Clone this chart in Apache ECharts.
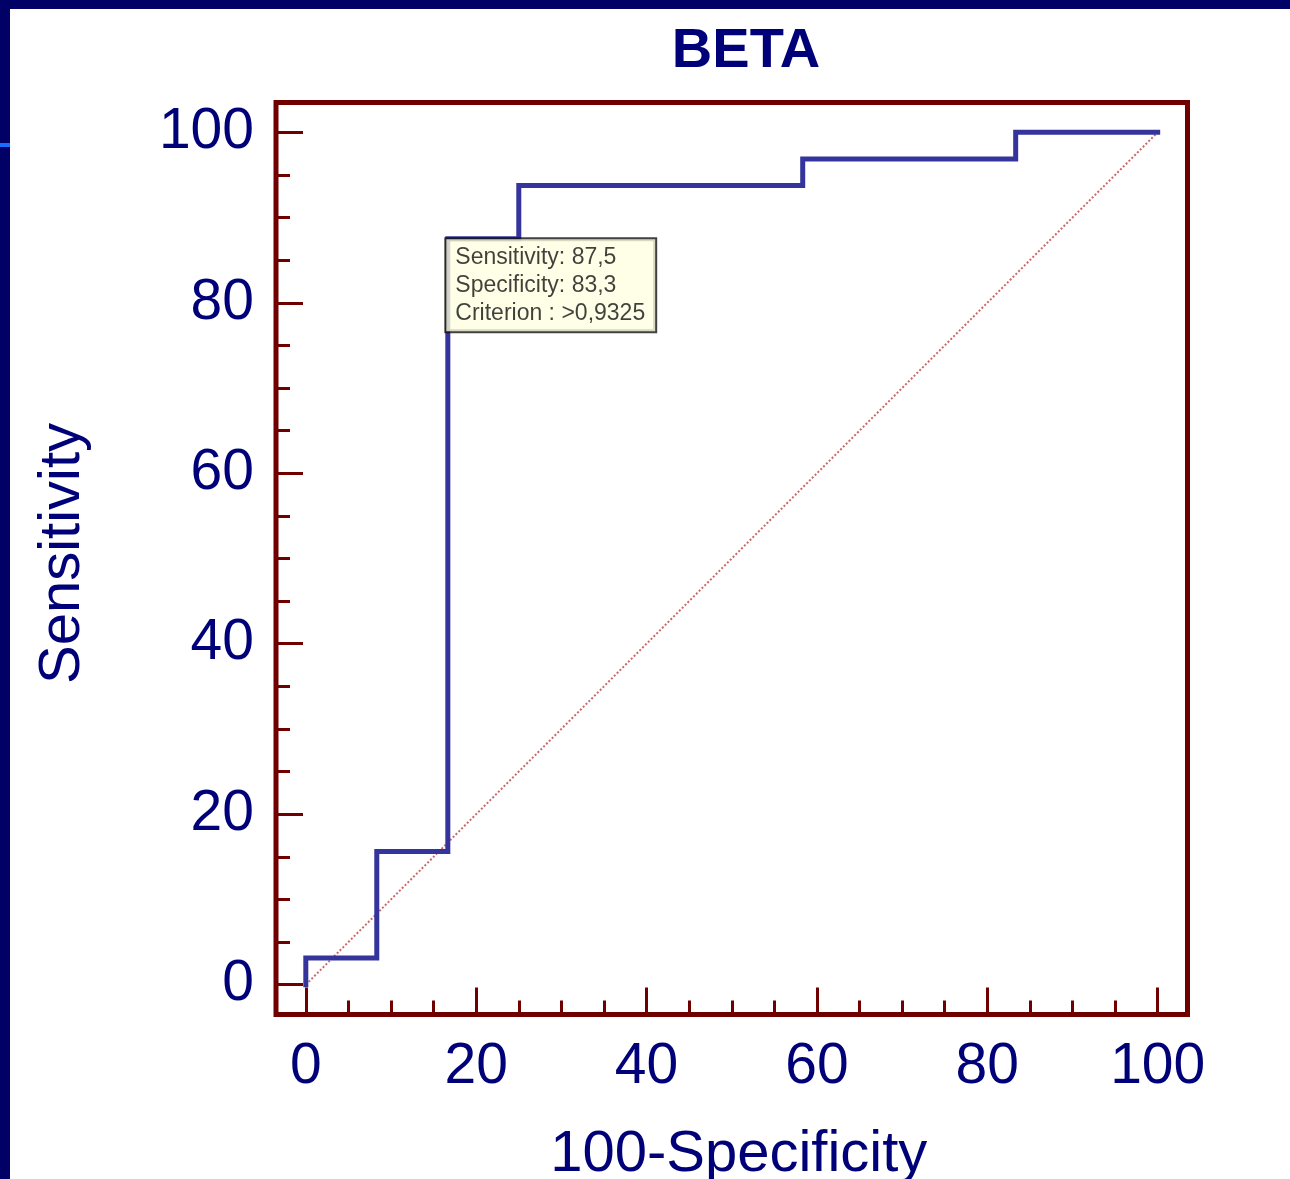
<!DOCTYPE html>
<html>
<head>
<meta charset="utf-8">
<script src="https://cdn.jsdelivr.net/npm/echarts@6/dist/echarts.min.js"></script>
<style>
html,body{margin:0;padding:0;background:#fff;}
#chart{width:1290px;height:1179px;}
</style>
</head>
<body>
<div id="chart"></div>
<script>
// ROC curve vertices (100-Specificity, Sensitivity)
var rocX = [0, 0, 8.33, 8.33, 16.67, 16.67, 25, 25, 58.33, 58.33, 83.33, 83.33, 100];
var rocY = [0, 3.125, 3.125, 15.625, 15.625, 87.5, 87.5, 93.75, 93.75, 96.875, 96.875, 100, 100];
var diagX = [0, 100];
var diagY = [0, 100];
var majorTicks = [0, 20, 40, 60, 80, 100];
var minorTicks = [5, 10, 15, 25, 30, 35, 45, 50, 55, 65, 70, 75, 85, 90, 95];
var cutPoint = [16.67, 87.5];
var cutText = ['Sensitivity: 87,5', 'Specificity: 83,3', 'Criterion : >0,9325'];
var titleText = 'BETA';
var xName = '100-Specificity';
var yName = 'Sensitivity';

var FONT = '"Liberation Sans", Arial, sans-serif';
var NAVY = '#000078';
var FRAME = '#700000';

function pairs(xs, ys) { return xs.map(function (x, i) { return [x, ys[i]]; }); }

function majorAxis(isX) {
  return {
    type: 'value', min: -3.5, max: 103.5,
    position: isX ? 'bottom' : 'left',
    axisLine: { show: false, onZero: false },
    splitLine: { show: false },
    axisTick: { show: true, inside: true, length: 27, customValues: majorTicks,
      lineStyle: { color: FRAME, width: 3 } },
    axisLabel: { show: true, customValues: majorTicks, fontSize: 57, fontFamily: FONT,
      color: NAVY, margin: isX ? 24 : 22 },
    name: isX ? xName : yName,
    nameLocation: 'middle',
    nameGap: isX ? 111 : 184,
    nameTextStyle: isX
      ? { fontSize: 58, fontFamily: FONT, color: NAVY, padding: [0, 0, 0, 14] }
      : { fontSize: 58, fontFamily: FONT, color: NAVY, padding: [0, 0, 0, 10] }
  };
}
function minorAxis(isX) {
  return {
    type: 'value', min: -3.5, max: 103.5,
    position: isX ? 'bottom' : 'left',
    axisLine: { show: false, onZero: false },
    splitLine: { show: false },
    axisTick: { show: true, inside: true, length: 14, customValues: minorTicks,
      lineStyle: { color: FRAME, width: 3 } },
    axisLabel: { show: false }
  };
}

var chart = echarts.init(document.getElementById('chart'), null, { renderer: 'canvas' });
chart.setOption({
  animation: false,
  backgroundColor: '#ffffff',
  title: {
    text: titleText, left: 741, top: 19, textAlign: 'center',
    textStyle: { fontSize: 56, fontWeight: 'bold', fontFamily: FONT, color: NAVY }
  },
  grid: {
    left: 276, top: 102.5, right: 102.5, bottom: 164.5,
    containLabel: false, outerBoundsMode: 'none',
    show: true, borderColor: FRAME, borderWidth: 5, backgroundColor: 'transparent'
  },
  xAxis: [majorAxis(true), minorAxis(true)],
  yAxis: [majorAxis(false), minorAxis(false)],
  series: [
    {
      type: 'line', xAxisIndex: 0, yAxisIndex: 0,
      data: pairs(diagX, diagY), symbol: 'none', silent: true,
      lineStyle: { color: '#c86a6a', width: 2, type: [2, 2] }, z: 2
    },
    {
      type: 'line', xAxisIndex: 0, yAxisIndex: 0,
      data: pairs(rocX, rocY), symbol: 'none',
      lineStyle: { color: '#34349c', width: 5, join: 'miter', cap: 'square' }, z: 3
    },
    {
      type: 'scatter', xAxisIndex: 0, yAxisIndex: 0,
      data: [cutPoint], symbolSize: 1, itemStyle: { color: 'rgba(0,0,0,0)' }, z: 5,
      label: {
        show: true, position: [-1, 1], align: 'left', verticalAlign: 'top',
        formatter: function () { return cutText.join('\n'); },
        backgroundColor: '#ffffe1', borderColor: '#111', borderWidth: 2,
        padding: [4, 10, 4, 9], fontSize: 23, lineHeight: 28,
        fontFamily: FONT, color: '#111'
      }
    }
  ],
  graphic: [
    { type: 'rect', shape: { x: 0, y: 0, width: 1290, height: 9 }, style: { fill: '#000066' }, z: 100 },
    { type: 'rect', shape: { x: 0, y: 0, width: 10, height: 1179 }, style: { fill: '#000066' }, z: 100 },
    { type: 'rect', shape: { x: 0, y: 143, width: 10, height: 4 }, style: { fill: '#1a6cff' }, z: 101 }
  ]
});
</script>
</body>
</html>
